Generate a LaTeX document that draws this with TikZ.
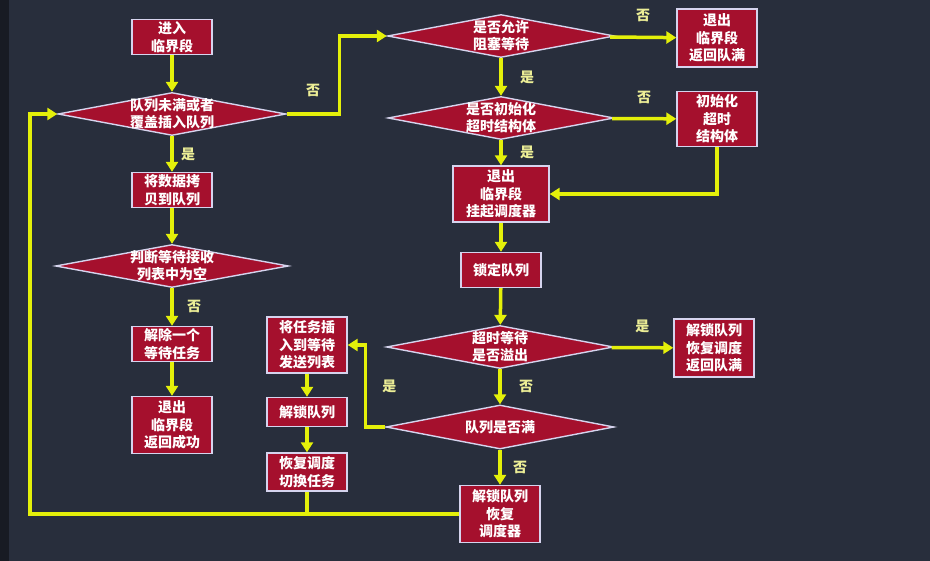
\documentclass[tikz,border=0pt]{standalone}
\usepackage{fontspec}
\setmainfont{Noto Sans CJK SC}
\usepackage{tikz}
\usetikzlibrary{arrows.meta,positioning,calc,shapes.geometric}
\definecolor{bgnavy}{RGB}{40,46,60}
\definecolor{bgedge}{RGB}{24,27,35}
\definecolor{boxred}{RGB}{165,16,45}
\definecolor{boxrim}{RGB}{214,212,238}
\definecolor{flowyel}{RGB}{228,240,10}
\definecolor{lblyel}{RGB}{236,238,150}
\tikzset{
  box/.style={draw=boxrim, line width=1.4pt, fill=boxred, text=white, align=center,
    font=\fontsize{14}{17.5}\selectfont\bfseries, minimum width=80pt, inner sep=2pt},
  dec/.style={diamond, draw=boxrim, line width=1.4pt, fill=boxred, text=white, align=center,
    font=\fontsize{14}{17}\selectfont\bfseries, aspect=5.2, inner sep=-2pt,
    minimum width=227pt, minimum height=43pt},
  arr/.style={-{Triangle[length=10pt,width=12pt]}, line width=3.5pt, draw=flowyel},
  wire/.style={line width=3.5pt, draw=flowyel},
  lbl/.style={text=lblyel, font=\fontsize{14}{16}\selectfont\bfseries}}

\begin{document}
\begin{tikzpicture}[x=1pt, y=-1pt]
  \fill[bgnavy] (0,0) rectangle (930,561);
  \fill[bgedge] (0,0) rectangle (9,561);
  \useasboundingbox (0,0) rectangle (930,561);

  % left column
  \node[box, minimum height=35pt] (enter) at (172,37) {进入\\临界段};
  \node[dec, minimum width=228pt] (notfull) at (172,114) {队列未满或者\\覆盖插入队列};
  \node[box, minimum height=35pt] (copy) at (172,190) {将数据拷\\贝到队列};
  \node[dec, minimum width=233pt] (rxempty) at (172,266) {判断等待接收\\列表中为空};
  \node[box, minimum height=35pt] (wake) at (172,344) {解除一个\\等待任务};
  \node[box, minimum height=57pt] (retok) at (172,425) {退出\\临界段\\返回成功};

  % right column
  \node[dec] (canblock) at (501,36) {是否允许\\阻塞等待};
  \node[box, minimum height=58pt] (retfull) at (717,38) {退出\\临界段\\返回队满};
  \node[dec, minimum width=226pt] (hasinit) at (501,118) {是否初始化\\超时结构体};
  \node[box, minimum height=55pt] (inittmo) at (717,119) {初始化\\超时\\结构体};
  \node[box, minimum width=96pt, minimum height=56pt] (suspend) at (501,194) {退出\\临界段\\挂起调度器};
  \node[box, minimum height=35pt] (lockq) at (501,270) {锁定队列};
  \node[dec] (timeout) at (500,347) {超时等待\\是否溢出};
  \node[box, minimum height=58pt] (unlockfull) at (714,348) {解锁队列\\恢复调度\\返回队满};
  \node[dec, minimum width=228pt, minimum height=44pt] (isfull) at (500,427) {队列是否满};
  \node[box, minimum height=57pt] (unlockres) at (500,514) {解锁队列\\恢复\\调度器};

  % middle column
  \node[box, minimum height=56pt] (insert) at (307,345) {将任务插\\入到等待\\发送列表};
  \node[box, minimum height=29pt] (unlockq) at (307,412) {解锁队列};
  \node[box, minimum height=38pt] (resume) at (307,472) {恢复调度\\切换任务};

  \coordinate (loop) at (30,513);

  % connectors
  \draw[arr] (enter) -- (notfull);
  \draw[arr] (notfull) -- node[lbl, right=4pt] {是} (copy);
  \draw[arr] (copy) -- (rxempty);
  \draw[arr] (rxempty) -- node[lbl, right=10pt] {否} (wake);
  \draw[arr] (wake) -- (retok);
  \draw[arr] (notfull.east) -- node[lbl, above=12pt] {否} ++(53,0) |- (canblock.west);
  \draw[arr] (canblock) -- node[lbl, above=10pt] {否} (retfull);
  \draw[arr] (canblock) -- node[lbl, right=14pt] {是} (hasinit);
  \draw[arr] (hasinit) -- node[lbl, above=10pt] {否} (inittmo);
  \draw[arr] (hasinit) -- node[lbl, right=14pt] {是} (suspend);
  \draw[arr] (inittmo.south) |- (suspend.east);
  \draw[arr] (suspend) -- (lockq);
  \draw[arr] (lockq) -- (timeout);
  \draw[arr] (timeout) -- node[lbl, above=10pt] {是} (unlockfull);
  \draw[arr] (timeout) -- node[lbl, right=14pt] {否} (isfull);
  \draw[arr] (isfull.west) -- ++(-20,0) |- node[lbl, pos=0.25, right=12pt] {是} (insert.east);
  \draw[arr] (insert) -- (unlockq);
  \draw[arr] (unlockq) -- (resume);
  \draw[arr] (isfull) -- node[lbl, right=8pt] {否} (unlockres);
  \draw[arr] (unlockres.west) -- (unlockres.west -| loop) |- (notfull.west);
  \draw[wire] (resume.south) -- (resume.south |- unlockres.west);
\end{tikzpicture}
\end{document}
